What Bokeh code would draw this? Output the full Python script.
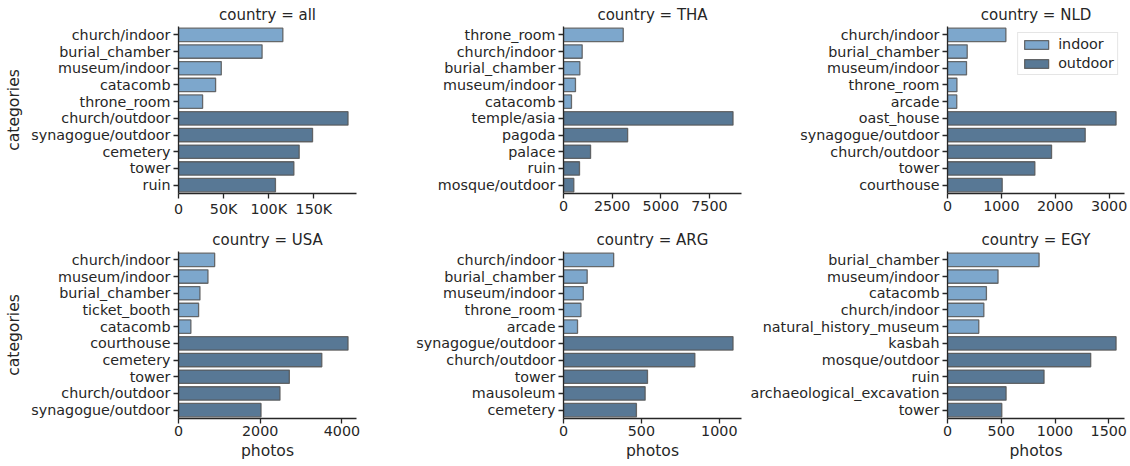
from bokeh.plotting import figure
from bokeh.layouts import row, column
from bokeh.models import FactorRange, Range1d, FixedTicker, CustomJSTickFormatter, Legend, LegendItem, ColumnDataSource
from bokeh.embed import file_html
from bokeh.resources import INLINE

# ---- data ----
all_indoor_cats = ["church/indoor", "burial_chamber", "museum/indoor", "catacomb", "throne_room"]
all_indoor_vals = [115600, 92600, 47400, 41100, 26700]
all_outdoor_cats = ["church/outdoor", "synagogue/outdoor", "cemetery", "tower", "ruin"]
all_outdoor_vals = [187800, 148500, 133700, 127800, 107400]

tha_indoor_cats = ["throne_room", "church/indoor", "burial_chamber", "museum/indoor", "catacomb"]
tha_indoor_vals = [3070, 960, 840, 615, 410]
tha_outdoor_cats = ["temple/asia", "pagoda", "palace", "ruin", "mosque/outdoor"]
tha_outdoor_vals = [8710, 3295, 1390, 822, 530]

nld_indoor_cats = ["church/indoor", "burial_chamber", "museum/indoor", "throne_room", "arcade"]
nld_indoor_vals = [1084, 366, 353, 175, 172]
nld_outdoor_cats = ["oast_house", "synagogue/outdoor", "church/outdoor", "tower", "courthouse"]
nld_outdoor_vals = [3130, 2557, 1932, 1622, 1016]

usa_indoor_cats = ["church/indoor", "museum/indoor", "burial_chamber", "ticket_booth", "catacomb"]
usa_indoor_vals = [885, 721, 525, 492, 303]
usa_outdoor_cats = ["courthouse", "cemetery", "tower", "church/outdoor", "synagogue/outdoor"]
usa_outdoor_vals = [4150, 3508, 2713, 2484, 2020]

arg_indoor_cats = ["church/indoor", "burial_chamber", "museum/indoor", "throne_room", "arcade"]
arg_indoor_vals = [322, 152, 127, 112, 90]
arg_outdoor_cats = ["synagogue/outdoor", "church/outdoor", "tower", "mausoleum", "cemetery"]
arg_outdoor_vals = [1088, 843, 539, 524, 468]

egy_indoor_cats = ["burial_chamber", "museum/indoor", "catacomb", "church/indoor", "natural_history_museum"]
egy_indoor_vals = [852, 470, 362, 338, 291]
egy_outdoor_cats = ["kasbah", "mosque/outdoor", "ruin", "archaeological_excavation", "tower"]
egy_outdoor_vals = [1568, 1332, 898, 545, 505]

ticks_all = [0, 50000, 100000, 150000]
ticks_tha = [0, 2500, 5000, 7500]
ticks_nld = [0, 1000, 2000, 3000]
ticks_usa = [0, 2000, 4000]
ticks_arg = [0, 500, 1000]
ticks_egy = [0, 500, 1000, 1500]

countries = ["all", "THA", "NLD", "USA", "ARG", "EGY"]

INDOOR = "#7da7cc"
OUTDOOR = "#587895"
TXT = "#262626"
FONT = "DejaVu Sans"

panels = [
    (all_indoor_cats, all_indoor_vals, all_outdoor_cats, all_outdoor_vals, ticks_all),
    (tha_indoor_cats, tha_indoor_vals, tha_outdoor_cats, tha_outdoor_vals, ticks_tha),
    (nld_indoor_cats, nld_indoor_vals, nld_outdoor_cats, nld_outdoor_vals, ticks_nld),
    (usa_indoor_cats, usa_indoor_vals, usa_outdoor_cats, usa_outdoor_vals, ticks_usa),
    (arg_indoor_cats, arg_indoor_vals, arg_outdoor_cats, arg_outdoor_vals, ticks_arg),
    (egy_indoor_cats, egy_indoor_vals, egy_outdoor_cats, egy_outdoor_vals, ticks_egy),
]

# layout geometry (page px): column borders
col_left = [0, 390, 744]
col_right = [390, 744, 1128]
frame_left = [178, 563, 947]
frame_right = [356, 741, 1124]

figs = []
for i, (ic, iv, oc, ov, ticks) in enumerate(panels):
    r, c = divmod(i, 3)
    cats = ic + oc
    xmax = max(iv + ov) * 1.05
    if r == 0:
        h, bt, bb = 225, 25, 32
    else:
        h, bt, bb = 241, 25, 48
    w = col_right[c] - col_left[c]
    p = figure(
        width=w, height=h,
        y_range=FactorRange(factors=list(reversed(cats))),
        x_range=Range1d(0, xmax),
        output_backend="svg", toolbar_location=None,
        min_border_left=frame_left[c] - col_left[c],
        min_border_right=col_right[c] - frame_right[c],
        min_border_top=bt, min_border_bottom=bb,
        title="country = " + countries[i],
    )
    p.title.align = "center"
    p.title.text_font = FONT
    p.title.text_font_size = "15px"
    p.title.text_font_style = "normal"
    p.title.text_color = TXT
    p.title.standoff = 6
    p.title.text_line_height = 1.0
    p.outline_line_color = None
    p.xgrid.visible = False
    p.ygrid.visible = False
    p.background_fill_color = "white"

    src_in = ColumnDataSource(dict(y=ic, right=iv))
    src_out = ColumnDataSource(dict(y=oc, right=ov))
    r_in = p.hbar(y="y", right="right", left=0, height=0.8, source=src_in,
                  fill_color=INDOOR, line_color="#555555", line_alpha=0.85, line_width=1.3)
    r_out = p.hbar(y="y", right="right", left=0, height=0.8, source=src_out,
                   fill_color=OUTDOOR, line_color="#555555", line_alpha=0.85, line_width=1.3)

    for ax in (p.xaxis[0], p.yaxis[0]):
        ax.axis_line_color = TXT
        ax.axis_line_width = 1.3
        ax.major_tick_line_color = TXT
        ax.major_tick_line_width = 1.3
        ax.major_tick_out = 5
        ax.major_tick_in = 0
        ax.minor_tick_out = 0
        ax.minor_tick_in = 0
        ax.major_label_text_font = FONT
        ax.major_label_text_font_size = "14.3px"
        ax.major_label_text_color = TXT
        ax.axis_label_text_font = FONT
        ax.axis_label_text_font_size = "15.6px"
        ax.axis_label_text_font_style = "normal"
        ax.axis_label_text_color = TXT
    p.yaxis[0].major_label_standoff = 3
    p.xaxis[0].major_label_standoff = 2
    p.yaxis[0].axis_label_standoff = 5
    p.xaxis[0].axis_label_standoff = 3
    p.xaxis[0].ticker = FixedTicker(ticks=ticks)
    if i == 0:
        p.xaxis[0].formatter = CustomJSTickFormatter(
            code="return tick == 0 ? '0' : (tick/1000).toFixed(0) + 'K';")
    if c == 0:
        p.yaxis[0].axis_label = "categories"
    if r == 1:
        p.xaxis[0].axis_label = "photos"

    if i == 2:
        leg = Legend(items=[LegendItem(label="indoor", renderers=[r_in]),
                            LegendItem(label="outdoor", renderers=[r_out])],
                     location="top_right")
        leg.margin = 6
        leg.padding = 3
        leg.spacing = 3
        leg.glyph_width = 30
        leg.glyph_height = 11
        leg.label_standoff = 7
        leg.label_text_font = FONT
        leg.label_text_font_size = "14.3px"
        leg.label_text_color = TXT
        leg.border_line_color = "#cccccc"
        leg.border_line_width = 1
        leg.background_fill_alpha = 0.8
        p.add_layout(leg)
    figs.append(p)

layout = column(row(*figs[:3]), row(*figs[3:]))
open("out.html", "w").write(file_html(layout, INLINE))
